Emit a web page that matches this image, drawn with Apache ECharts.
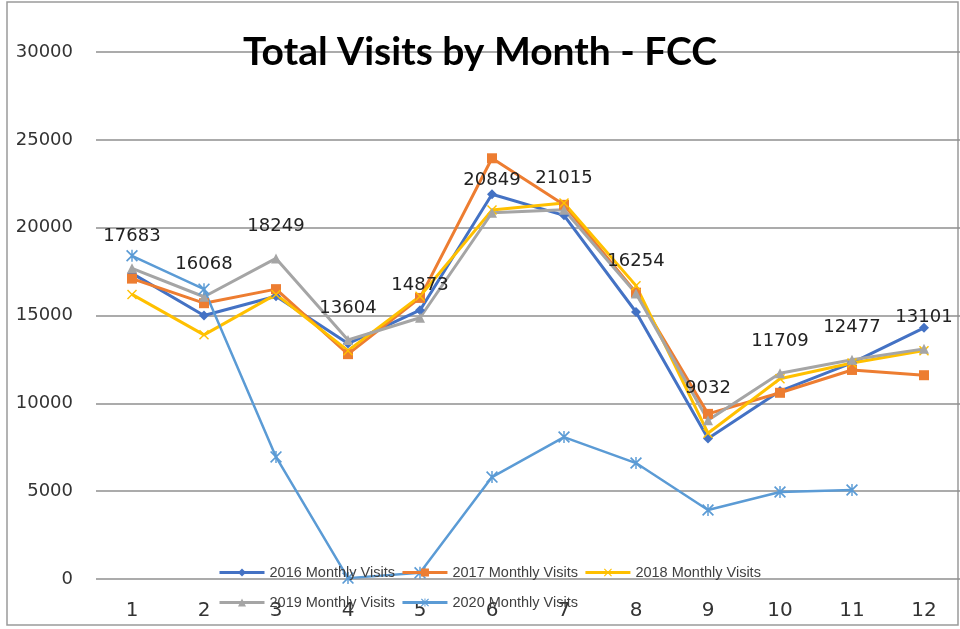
<!DOCTYPE html>
<html>
<head>
<meta charset="utf-8">
<title>Total Visits by Month - FCC</title>
<script src="https://cdn.jsdelivr.net/npm/echarts@6/dist/echarts.min.js"></script>
<style>
  html, body { margin: 0; padding: 0; background: #fff; }
  #chart { width: 960px; height: 629px; }
</style>
</head>
<body>
<div id="chart"></div>
<script>
// 月份
var months = ['1', '2', '3', '4', '5', '6', '7', '8', '9', '10', '11', '12'];

// 每年的月访问量
var visits2016 = [17400, 15000, 16100, 13400, 15300, 21900, 20700, 15200, 8000, 10700, 12300, 14300];
var visits2017 = [17100, 15700, 16500, 12800, 16000, 23950, 21300, 16300, 9400, 10600, 11900, 11600];
var visits2018 = [16200, 13900, 16200, 13000, 16100, 21000, 21400, 16700, 8300, 11400, 12300, 13000];
var visits2019 = [17683, 16068, 18249, 13604, 14873, 20849, 21015, 16254, 9032, 11709, 12477, 13101];
var visits2020 = [18400, 16500, 6950, 50, 350, 5800, 8080, 6600, 3930, 4950, 5070, null];

// y轴刻度
var yTicks = [0, 5000, 10000, 15000, 20000, 25000, 30000];

// 自定义标记: x 和 星号
var xMark = 'path://M1,0 L5,4 L9,0 L10,1 L6,5 L10,9 L9,10 L5,6 L1,10 L0,9 L4,5 L0,1 Z';
var starMark = 'path://M1,0 L5,4 L9,0 L10,1 L6,5 L10,9 L9,10 L5,6 L1,10 L0,9 L4,5 L0,1 Z M4.4,0 L5.6,0 L5.6,10 L4.4,10 Z';

var myChart = echarts.init(document.getElementById('chart'));

function makeSeries(name, data, color, symbol, size, width) {
    return {
        name: name,
        type: 'line',
        data: data,
        symbol: symbol,
        symbolSize: size,
        showAllSymbol: true,
        lineStyle: { color: color, width: width },
        itemStyle: { color: color },
        emphasis: { disabled: true },
        animation: false
    };
}

var s2019 = makeSeries('2019 Monthly Visits', visits2019, '#A5A5A5', 'triangle', 10, 3);
// 数据标签只显示在2019系列上
s2019.label = {
    show: true,
    position: 'top',
    distance: 18,
    fontFamily: 'DejaVu Sans',
    fontSize: 18,
    color: '#222'
};

var legendText = { fontFamily: 'Liberation Sans', fontSize: 14.5, color: '#404040' };

var option = {
    backgroundColor: '#fff',
    title: {
        text: 'Total Visits by Month - FCC',
        left: 'center',
        top: 28,
        textStyle: {
            fontFamily: 'Lato',
            fontWeight: 'bold',
            fontSize: 39,
            color: '#000'
        }
    },
    legend: [
        {
            data: ['2016 Monthly Visits', '2017 Monthly Visits', '2018 Monthly Visits'],
            left: 213,
            top: 560,
            itemWidth: 45,
            itemHeight: 10,
            itemGap: 6,
            lineStyle: { width: 3 },
            textStyle: legendText
        },
        {
            data: ['2019 Monthly Visits', '2020 Monthly Visits'],
            left: 213,
            top: 590,
            itemWidth: 45,
            itemHeight: 10,
            itemGap: 6,
            lineStyle: { width: 3 },
            textStyle: legendText
        }
    ],
    grid: {
        left: 96,
        top: 52,
        width: 865,
        height: 527
    },
    xAxis: {
        type: 'category',
        data: months,
        boundaryGap: true,
        axisLine: { show: false },
        axisTick: { show: false },
        axisLabel: {
            margin: 22,
            fontFamily: 'DejaVu Sans',
            fontSize: 20,
            color: '#333'
        }
    },
    yAxis: {
        type: 'value',
        min: yTicks[0],
        max: yTicks[yTicks.length - 1],
        interval: 5000,
        axisLine: { show: false },
        axisTick: { show: false },
        splitLine: { lineStyle: { color: '#8f8f8f', width: 1.5 } },
        axisLabel: {
            margin: 23,
            fontFamily: 'DejaVu Sans',
            fontSize: 18,
            color: '#333',
            formatter: function (v) { return String(v); }
        }
    },
    // 外框
    graphic: [
        {
            type: 'rect',
            shape: { x: 7, y: 2, width: 951, height: 623 },
            style: { fill: 'none', stroke: '#9a9a9a', lineWidth: 1.5 },
            silent: true
        }
    ],
    series: [
        makeSeries('2016 Monthly Visits', visits2016, '#4472C4', 'diamond', 10, 3),
        makeSeries('2017 Monthly Visits', visits2017, '#ED7D31', 'rect', 10, 3),
        makeSeries('2018 Monthly Visits', visits2018, '#FFC000', xMark, 10, 3),
        s2019,
        makeSeries('2020 Monthly Visits', visits2020, '#5B9BD5', starMark, 12, 2.5)
    ]
};

option && myChart.setOption(option);
</script>
</body>
</html>
